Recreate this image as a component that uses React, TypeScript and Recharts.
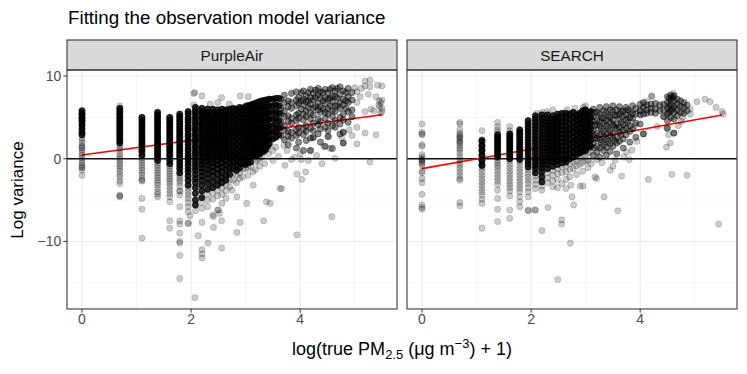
import { ScatterChart, Scatter, XAxis, YAxis, CartesianGrid, ReferenceLine } from "recharts";

// x = log(true PM2.5 + 1), y = log variance
const X_TICKS = [0, 2, 4];
const X_MINOR = [1, 3, 5];
const Y_TICKS = [-10, 0, 10];
const Y_MINOR = [-15, -5, 5];
const X_DOMAIN: [number, number] = [-0.275, 5.775];
const Y_DOMAIN: [number, number] = [-18.17, 10.73];

const PANELS = ["PurpleAir", "SEARCH"];

// fitted lines [x, y] at the ends of the data range
const PA_FIT = [[0, 0.45], [5.5, 5.32]];
const SR_FIT = [[0, -1.2], [5.5, 5.28]];

// PurpleAir: heavily overplotted columns
const PA_CORE: [number, number[]][] = [
  [0, [5.8, 5.5, 5.3, 5.0, 4.8, 4.6, 4.3, 4.0, 3.6, 3.2, 2.9]],
  [0.693, [6.1, 5.8, 5.5, 5.2, 4.9, 4.6, 4.3, 4.0, 3.7, 3.4, 3.1, 2.8, 2.5, 2.2, 1.9]],
  [1.099, [5.0, 4.7, 4.4, 4.1, 3.8, 3.5, 3.2, 2.9, 2.6, 2.3, 2.0, 1.7, 1.4, 1.1, 0.8, 0.4]],
  [1.386, [5.6, 5.3, 5.0, 4.7, 4.4, 4.1, 3.8, 3.5, 3.2, 2.9, 2.6, 2.3, 2.0, 1.7, 1.4, 1.1, 0.8, 0.5, 0.2, -0.2]],
  [1.609, [5.0, 4.7, 4.4, 4.1, 3.8, 3.5, 3.2, 2.9, 2.6, 2.3, 2.0, 1.7, 1.4, 1.1, 0.8, 0.5, 0.2, -0.2, -0.6]],
  [1.792, [5.4, 5.1, 4.8, 4.5, 4.2, 3.9, 3.6, 3.3, 3.0, 2.7, 2.4, 2.1, 1.8, 1.5, 1.2, 0.9, 0.6, 0.3, 0.0, -0.4, -0.8, -1.2, -1.7]],
  [1.946, [5.7, 5.4, 5.0, 4.7, 4.4, 4.0, 3.7, 3.4, 3.0, 2.7, 2.3, 2.0, 1.7, 1.3, 1.0, 0.6, 0.3, 0.0, -0.4, -0.8, -1.2, -1.6, -2.1, -2.6, -3.2]],
  [2.079, [6.2, 5.8, 5.5, 5.1, 4.8, 4.4, 4.1, 3.7, 3.4, 3.0, 2.7, 2.3, 2.0, 1.6, 1.3, 0.9, 0.6, 0.2, -0.2, -0.6, -1.0, -1.4, -1.9, -2.4, -2.9, -3.5, -4.2, -5.0, -5.6]],
  [2.197, [6.1, 5.7, 5.4, 5.0, 4.7, 4.3, 4.0, 3.6, 3.3, 2.9, 2.6, 2.2, 1.9, 1.5, 1.2, 0.8, 0.5, 0.1, -0.3, -0.7, -1.1, -1.6, -2.1, -2.6, -3.2, -3.9, -4.7]],
  [2.303, [6.0, 5.6, 5.3, 4.9, 4.6, 4.2, 3.9, 3.5, 3.2, 2.8, 2.5, 2.1, 1.8, 1.4, 1.1, 0.7, 0.4, 0.0, -0.4, -0.8, -1.3, -1.8, -2.4, -3.0, -3.7]],
  [2.398, [6.0, 5.6, 5.2, 4.9, 4.5, 4.2, 3.8, 3.5, 3.1, 2.8, 2.4, 2.1, 1.7, 1.4, 1.0, 0.7, 0.3, -0.1, -0.5, -1.0, -1.5, -2.1, -2.8, -3.5]],
  [2.485, [5.9, 5.5, 5.2, 4.8, 4.5, 4.1, 3.8, 3.4, 3.1, 2.7, 2.4, 2.0, 1.7, 1.3, 1.0, 0.6, 0.2, -0.2, -0.7, -1.2, -1.8, -2.5, -3.2]],
  [2.565, [6.0, 5.6, 5.2, 4.8, 4.4, 4.0, 3.6, 3.2, 2.8, 2.4, 2.0, 1.6, 1.2, 0.8, 0.4, 0.0, -0.5, -1.0, -1.6, -2.3, -2.9]],
  [2.639, [5.9, 5.5, 5.1, 4.7, 4.3, 3.9, 3.5, 3.1, 2.7, 2.3, 1.9, 1.5, 1.1, 0.7, 0.3, -0.2, -0.7, -1.3, -2.0, -2.6]],
  [2.708, [6.0, 5.5, 5.0, 4.5, 4.0, 3.5, 3.0, 2.5, 2.0, 1.5, 1.0, 0.5, 0.0, -0.6, -1.2, -1.9]],
  [2.773, [6.1, 5.6, 5.1, 4.6, 4.1, 3.6, 3.1, 2.6, 2.1, 1.6, 1.1, 0.6, 0.1, -0.5, -1.2]],
  [2.833, [6.0, 5.4, 4.8, 4.2, 3.6, 3.0, 2.4, 1.8, 1.2, 0.6, 0.0, -0.7, -1.4]],
  [2.89, [6.2, 5.6, 5.0, 4.4, 3.8, 3.2, 2.6, 2.0, 1.4, 0.8, 0.2, -0.5, -1.1]],
  [2.944, [6.1, 5.5, 4.9, 4.3, 3.7, 3.1, 2.5, 1.9, 1.3, 0.7, 0.1, -0.6]],
  [2.996, [6.3, 5.6, 4.9, 4.2, 3.5, 2.8, 2.1, 1.4, 0.7, 0.0, -0.7]],
  [3.045, [6.4, 5.7, 5.0, 4.3, 3.6, 2.9, 2.2, 1.5, 0.8, 0.1, -0.5]],
  [3.091, [6.5, 5.8, 5.1, 4.4, 3.7, 3.0, 2.3, 1.6, 0.9, 0.2, -0.4]],
  [3.135, [6.6, 5.9, 5.2, 4.5, 3.8, 3.1, 2.4, 1.7, 1.0, 0.3]],
  [3.178, [6.7, 6.0, 5.3, 4.6, 3.9, 3.2, 2.5, 1.8, 1.1, 0.4]],
  [3.219, [6.8, 6.0, 5.2, 4.4, 3.6, 2.8, 2.0, 1.2, 0.5]],
  [3.258, [6.9, 6.1, 5.3, 4.5, 3.7, 2.9, 2.1, 1.3, 0.6]],
  [3.296, [7.0, 6.2, 5.4, 4.6, 3.8, 3.0, 2.2, 1.4, 0.8]],
  [3.332, [7.0, 6.2, 5.4, 4.6, 3.8, 3.0, 2.2, 1.5, 0.9]],
  [3.367, [7.1, 6.3, 5.5, 4.7, 3.9, 3.1, 2.3, 1.6, 1.1]],
  [3.401, [7.1, 6.3, 5.5, 4.7, 3.9, 3.1, 2.3, 1.5]],
  [3.434, [7.2, 6.4, 5.6, 4.8, 4.0, 3.2, 2.5, 1.8]],
  [3.497, [7.2, 6.4, 5.6, 4.8, 4.0, 3.2, 2.4]],
  [3.555, [7.3, 6.5, 5.7, 4.9, 4.1, 3.3, 2.6]],
  [3.611, [7.3, 6.4, 5.5, 4.6, 3.7, 2.9]],
];

const PA_MID: [number, number[]][] = [
  [3.65, [7.2, 6.1, 5.4, 4.4, 3.8, 2.8]],
  [3.71, [7.7, 6.8, 5.8, 5.1, 4.0, 3.4, 2.3]],
  [3.78, [7.0, 6.3, 5.2, 4.5, 3.3, 2.7, 1.7]],
  [3.84, [7.9, 6.8, 6.1, 4.9, 4.3, 3.2, 2.5]],
  [3.93, [8.1, 7.1, 6.4, 5.3, 4.6, 3.5, 2.8, 1.3]],
  [3.97, [7.4, 6.7, 5.5, 4.9, 3.8, 3.1, 2.0]],
  [4.02, [8.0, 7.0, 6.0]],
  [4.06, [8.2, 7.2, 6.5, 5.4, 4.7, 3.6, 2.9, 1.0]],
  [4.11, [7.6, 6.9, 5.8, 5.1, 4.0, 3.3, 2.2]],
  [4.15, [8.0, 7.0, 6.2]],
  [4.19, [8.4, 7.4, 6.6, 5.5, 4.8, 3.7, 2.5, 1.0]],
  [4.24, [7.9, 7.1, 6.1, 5.3, 4.3, 3.4, 2.6]],
  [4.28, [8.3, 7.4, 6.3]],
  [4.33, [8.5, 7.7, 6.7, 5.9, 4.8, 4.1, 3.0]],
  [4.37, [8.1, 7.3, 6.3, 5.6, 4.5, 3.6, 2.0]],
  [4.42, [8.0, 7.0, 6.0]],
  [4.46, [8.4, 7.4, 6.7, 5.6, 4.9, 3.8, 1.5]],
  [4.51, [8.0, 7.2, 6.1, 5.4, 4.3, 3.4, 2.7]],
  [4.55, [8.4, 7.3, 6.4]],
  [4.59, [8.6, 7.6, 6.9, 5.8, 5.1, 4.0, 1.25]],
  [4.64, [8.2, 7.5, 6.4, 5.7, 4.6, 3.8]],
  [4.68, [8.5, 7.3, 6.4]],
  [4.73, [8.7, 7.8, 6.8, 6.1, 5.0, 4.2, 3.0]],
  [4.79, [8.2, 7.2, 6.5, 5.4, 4.7, 3.2, 1.9]],
  [4.84, [8.0, 7.0, 6.1]],
  [4.88, [8.5, 7.5, 6.8, 5.7, 4.4]],
  [4.95, [8.0, 7.1, 5.9, 5.1]],
];

const PA_TAIL: [number, number[]][] = [
  [0, [2.5, 2.2, 1.9, 1.6, 1.4, 1.3, 1.0, 0.7, 0.4, 0.1, -0.2, -0.5, -0.8, -1.0, -1.1, -1.4, -2.0]],
  [0.693, [6.4, 1.6, 1.3, 1.0, 0.6, 0.3, 0.0, -0.3, -0.6, -0.9, -1.2, -1.5, -1.9, -2.2, -2.7, -3.0, -4.4, -4.5, -4.6]],
  [1.099, [0.1, -0.2, -0.5, -0.8, -1.1, -1.4, -1.7, -2.0, -2.4, -2.6, -2.7, -4.8, -6.1, -9.6]],
  [1.386, [-0.5, -0.8, -1.1, -1.4, -1.7, -2.0, -2.3, -2.6, -2.9, -3.2, -3.6, -4.0, -4.3, -4.6]],
  [1.609, [-0.9, -1.2, -1.5, -1.8, -2.1, -2.4, -2.7, -3.0, -3.4, -3.8, -4.2, -4.6, -5.2, -7.5, -8.4]],
  [1.792, [-2.0, -2.3, -2.6, -2.9, -3.3, -3.9, -3.9, -4.4, -5.8, -7.5, -7.9, -9.0, -10.0, -10.2, -11.7, -14.5]],
  [1.946, [-3.6, -4.0, -4.4, -4.8, -5.3, -5.8, -6.4, -7.8]],
];

const PA_SPARSE: [number, number][] = [
  [2.05, 7.9], [2.05, 6.5], [2.07, 8.0], [2.2, 7.6], [2.56, 7.4], [2.49, 6.8], [2.9, 7.6], [3.05, 7.5], [3.02, 6.5], [2.35, 6.6], [2.7, 6.6],
  [2.079, -6.3], [2.197, -5.3], [2.197, -6.0], [2.303, -4.3], [2.303, -5.0], [2.303, -5.8], [2.398, -4.2], [2.398, -4.9], [2.398, -6.8],
  [2.485, -3.8], [2.485, -4.5], [2.485, -6.2], [2.565, -3.5], [2.565, -4.3], [2.565, -5.4], [2.639, -3.2], [2.639, -3.9], [2.639, -4.8],
  [2.708, -2.6], [2.708, -3.4], [2.75, -3.8], [2.773, -1.8], [2.773, -2.6], [2.84, -4.6], [2.833, -2.0], [2.833, -2.9], [2.89, -1.7], [2.89, -2.4],
  [2.944, -1.3], [2.944, -2.2], [2.996, -1.2], [3.02, -5.4], [3.045, -1.1], [3.045, -2.0], [3.091, -0.9], [3.14, -3.2], [3.135, -1.6], [3.178, -0.4],
  [3.178, -1.3], [3.219, -0.2], [3.258, 0.0], [3.258, -0.9], [3.296, 0.2], [3.35, -0.6], [3.38, -5.2], [3.45, -5.4], [3.42, 0.6], [3.5, 1.0],
  [3.5, -0.2], [3.55, 1.4], [3.6, 0.3], [3.63, -3.6], [3.66, -3.6], [3.7, 1.6], [3.72, -0.8],
  [1.95, -7.8], [2.2, -7.7], [2.41, -8.3], [2.56, -7.5], [2.9, -7.7], [2.84, -8.9], [3.33, -7.5], [2.31, -10.2], [2.2, -11.0], [2.2, -11.5],
  [2.2, -12.0], [2.56, -10.8], [2.07, -16.8], [2.5, -6.2], [2.41, -7.0], [2.52, -6.6], [4.58, -7.0], [3.94, -9.2], [2.13, -9.3], [1.98, -6.9],
  [5.19, 9.4], [5.28, 9.5], [5.28, 8.7], [5.19, 8.8], [5.42, 8.9], [5.5, 8.8], [5.04, 8.1], [5.39, 7.5], [5.5, 7.1], [5.44, 6.5], [5.5, 5.7],
  [5.47, 5.5], [5.35, 5.8], [5.19, 5.7], [5.04, 6.8], [5.04, 3.8], [5.19, 3.1], [5.39, 2.9], [5.04, 1.8], [4.79, 1.9], [5.28, -0.4], [3.94, -1.85],
  [4.03, -2.5], [4.1, -1.6], [4.4, -0.6], [4.64, 0.05], [4.02, -0.1], [4.15, -0.2], [3.84, -0.1], [4.55, 1.25], [4.43, 1.5], [4.18, 0.97],
  [4.79, 3.2], [4.76, 2.5], [4.52, 2.7], [4.24, 2.5], [5.1, 7.5], [5.3, 6.0], [4.9, 3.5], [4.0, 0.6], [3.9, 0.2], [4.3, 0.4], [3.76, 1.0],
  [4.95, 2.8], [5.5, 6.1], [5.45, 7.0], [5.25, 7.8], [5.12, 8.5], [5.0, 8.6], [5.48, 6.8], [5.46, 6.3],
];

// SEARCH
const SR_CORE: [number, number[]][] = [
  [1.099, [2.2, 1.6, 1.0, 0.4, -0.2, -0.8]],
  [1.386, [2.9, 2.6, 2.3, 2.0, 1.7, 1.4, 1.1, 0.8, 0.5, 0.2]],
  [1.609, [3.0, 2.7, 2.4, 2.1, 1.8, 1.5, 1.2, 0.9, 0.6, 0.3, 0.0]],
  [1.792, [3.5, 3.2, 2.9, 2.6, 2.3, 2.0, 1.7, 1.4, 1.1, 0.8, 0.5, 0.2, -0.1]],
  [1.946, [4.6, 4.2, 3.8, 3.4, 3.0, 2.6, 2.2, 1.8, 1.4, 1.0, 0.6, 0.2, -0.2, -0.6, -1.0]],
  [2.079, [5.2, 4.8, 4.4, 4.0, 3.6, 3.2, 2.8, 2.4, 2.0, 1.6, 1.2, 0.8, 0.4, 0.0, -0.4, -0.8, -1.2, -1.7]],
  [2.197, [5.3, 4.9, 4.5, 4.1, 3.7, 3.3, 2.9, 2.5, 2.1, 1.7, 1.3, 0.9, 0.5, 0.1, -0.3, -0.7, -1.1, -1.6, -2.2, -2.8]],
  [2.303, [5.3, 4.9, 4.5, 4.1, 3.7, 3.3, 2.9, 2.5, 2.1, 1.7, 1.3, 0.9, 0.5, 0.1, -0.3, -0.7, -1.2]],
  [2.398, [5.2, 4.8, 4.4, 4.0, 3.6, 3.2, 2.8, 2.4, 2.0, 1.6, 1.2, 0.8, 0.4, 0.0, -0.4, -0.9]],
  [2.485, [5.4, 5.0, 4.6, 4.2, 3.8, 3.4, 3.0, 2.6, 2.2, 1.8, 1.4, 1.0, 0.6, 0.2, -0.2, -0.7]],
  [2.565, [5.5, 5.0, 4.5, 4.0, 3.5, 3.0, 2.5, 2.0, 1.5, 1.0, 0.5, 0.0, -0.5]],
  [2.639, [5.5, 5.0, 4.5, 4.0, 3.5, 3.0, 2.5, 2.0, 1.5, 1.0, 0.5, 0.0, -0.4]],
  [2.708, [5.4, 4.8, 4.2, 3.6, 3.0, 2.4, 1.8, 1.2, 0.6, 0.0]],
  [2.773, [5.6, 5.0, 4.4, 3.8, 3.2, 2.6, 2.0, 1.4, 0.8, 0.2]],
  [2.833, [5.3, 4.7, 4.1, 3.5, 2.9, 2.3, 1.7, 1.1, 0.5]],
  [2.89, [5.5, 4.9, 4.3, 3.7, 3.1, 2.5, 1.9, 1.3, 0.7]],
  [2.944, [5.8, 5.1, 4.4, 3.7, 3.0, 2.3, 1.6, 0.9]],
  [2.996, [5.9, 5.2, 4.5, 3.8, 3.1, 2.4, 1.7, 1.0]],
  [3.045, [5.6, 4.9, 4.2, 3.5, 2.8, 2.1, 1.4]],
  [3.091, [5.7, 5.0, 4.3, 3.6, 2.9, 2.2, 1.5]],
];

const SR_MID: [number, number[]][] = [
  [3.14, [6.0, 5.1, 4.5, 3.5, 2.9, 1.9, 1.3, 0.4]],
  [3.17, [5.6, 4.0, 2.4]],
  [3.21, [5.6, 4.7, 4.1, 3.1, 2.5, 1.5, 0.8]],
  [3.26, [6.2, 5.4, 4.5, 3.9, 2.9, 2.3, 1.3, 0.2]],
  [3.29, [5.0, 3.6, 2.0]],
  [3.33, [5.8, 4.9, 4.3, 3.3, 2.7, 1.7, 1.0]],
  [3.38, [6.3, 5.6, 4.6, 4.0, 3.0, 2.4, 1.4, 0.4]],
  [3.41, [5.2, 3.7, 2.1]],
  [3.45, [5.9, 5.0, 4.4, 3.4, 2.8, 1.8, 0.9]],
  [3.5, [6.4, 5.7, 4.7, 4.1, 3.1, 2.5, 1.5]],
  [3.53, [5.3, 3.9, 2.2]],
  [3.57, [5.9, 5.2, 4.2, 3.6, 2.6, 1.9, 0.6]],
  [3.62, [6.3, 5.4, 4.8, 3.8, 3.2, 2.1]],
  [3.65, [5.7, 4.4, 2.9]],
  [3.69, [5.8, 5.1, 4.1, 3.5, 2.4, 1.3]],
  [3.74, [6.2, 5.3, 4.7, 3.7, 2.9]],
  [3.77, [5.9, 4.4]],
  [3.81, [5.7, 5.0, 4.0, 3.3, 2.0]],
  [3.86, [6.4, 5.5, 4.9, 3.6]],
  [3.92, [6.1, 5.4, 4.3, 2.6]],
  [4.0, [6.6, 5.8, 5.3, 4.2]],
  [4.06, [6.8, 6.2, 5.4, 3.0]],
  [4.12, [6.5, 5.9, 5.5]],
  [4.2, [6.6, 6.1, 5.6]],
  [4.28, [6.7, 6.0, 5.5]],
  [4.36, [6.5, 5.8]],
  [4.43, [6.6, 5.9, 5.1]],
  [4.5, [7.5, 6.8, 6.1, 5.4, 4.6, 3.7]],
  [4.53, [7.3, 6.4, 5.6]],
  [4.56, [7.7, 7.1, 6.5, 5.8, 5.0]],
  [4.59, [7.4, 6.0]],
  [4.62, [7.6, 7.0, 6.3, 5.6, 4.8, 3.1]],
  [4.68, [7.2, 6.6, 5.9, 5.2]],
  [4.74, [7.0, 6.3, 5.6]],
  [4.8, [6.8, 6.2, 5.5]],
  [4.86, [6.5, 5.8]],
];

const SR_TAIL: [number, number[]][] = [
  [0, [4.2, 3.2, 3.0, 2.9, 1.7, 1.5, 0.5, 0.2, 0.0, -0.1, -0.2, -0.4, -0.6, -0.8, -1.5, -1.7, -2.4, -2.9, -4.3, -5.6, -5.9, -6.1]],
  [0.693, [4.4, 4.2, 3.5, 3.1, 2.9, 2.7, 2.6, 2.4, 2.2, 2.0, 1.9, 1.6, 1.3, 1.1, 0.7, 0.3, -0.1, -0.5, -0.8, -1.2, -1.6, -2.0, -2.4, -2.6, -5.3, -5.7]],
  [1.099, [3.4, 2.3, 2.1, 2.0, 1.8, 1.6, 1.4, 1.3, 1.1, 0.9, 0.6, 0.3, 0.0, -0.3, -0.6, -0.9, -1.2, -1.6, -2.0, -2.4, -2.8, -3.2, -3.6, -4.0, -4.4, -4.9, -5.4, -8.4]],
  [1.386, [4.4, 3.9, 3.5, 3.2, -0.2, -0.5, -0.8, -1.1, -1.5, -1.9, -2.3, -2.7, -3.1, -3.8, -4.8, -6.1, -7.6]],
  [1.609, [3.9, 3.4, -0.3, -0.7, -1.1, -1.5, -1.9, -2.3, -2.7, -3.1, -3.5, -3.9, -4.5, -6.2, -7.2]],
  [1.792, [-0.4, -0.8, -1.2, -1.6, -2.0, -2.4, -2.8, -3.2, -3.6, -4.0, -4.6, -5.2, -5.8]],
  [1.946, [-1.4, -1.8, -2.2, -2.6, -3.0, -3.5, -4.0, -4.6, -6.2]],
];

const SR_SPARSE: [number, number][] = [
  [2.079, -2.1], [2.079, -2.6], [2.079, -3.1], [2.079, -3.6], [2.079, -6.2], [2.197, -3.3], [2.197, -3.8], [2.2, -8.7], [2.303, -1.7], [2.303, -2.3],
  [2.303, -2.9], [2.31, -5.9], [2.398, -1.4], [2.398, -2.0], [2.398, -2.7], [2.398, -3.4], [2.485, -1.2], [2.485, -1.8], [2.485, -2.5], [2.485, -3.5],
  [2.49, -14.6], [2.565, -1.0], [2.565, -1.7], [2.565, -3.0], [2.56, -7.4], [2.56, -7.9], [2.639, -0.9], [2.639, -1.6], [2.639, -2.5], [2.639, -3.6],
  [2.708, -0.6], [2.708, -1.3], [2.708, -2.2], [2.72, -10.2], [2.773, -0.4], [2.773, -1.2], [2.78, -5.6], [2.75, -4.6], [2.73, -3.2], [2.833, -0.2],
  [2.833, -0.9], [2.833, -1.9], [2.9, -3.3], [2.95, -3.3], [2.89, 0.1], [2.89, -0.7], [2.944, 0.3], [2.944, -0.5], [2.944, -1.5], [2.996, 0.4],
  [2.996, -0.3], [3.045, 0.7], [3.045, -0.2], [3.045, -1.1], [3.091, 0.8], [3.1, -0.6], [3.17, -2.2], [3.2, -2.4], [3.2, -0.1], [3.3, -0.5],
  [3.34, -4.6], [3.59, -6.3], [3.66, -2.1], [3.45, -1.4], [3.5, -0.9], [3.54, -0.15], [3.7, 0.2], [3.8, -0.1], [3.75, 0.8], [1.95, -6.3], [2.07, -6.2],
  [2.29, 5.7], [2.2, 5.6], [2.66, 5.9], [2.96, 6.2], [3.0, 6.4], [2.4, 5.9], [2.1, 5.5], [2.8, 6.1],
  [4.21, 7.5], [4.12, 6.9], [4.21, 7.6], [4.61, 7.6], [4.61, 7.9], [5.04, 6.9], [5.19, 7.2], [5.28, 6.9], [5.39, 6.2], [5.5, 5.7], [5.52, 5.4],
  [4.92, 6.0], [4.92, 5.4], [4.43, 5.1], [4.49, 3.7], [4.52, 2.9], [4.55, 1.9], [4.48, 1.4], [4.61, 3.1], [4.31, 3.9], [4.06, 3.0], [3.94, 2.1],
  [3.85, 1.05], [3.82, 4.9], [3.9, 4.0], [4.15, -2.5], [4.58, -1.9], [4.86, -2.0], [5.44, -7.9], [4.0, 5.9], [4.7, 4.0], [4.75, 4.5], [4.78, 5.0],
];

const FONT = "'Liberation Sans', Arial, Helvetica, sans-serif";

const cols = (c: [number, number[]][]) => c.flatMap(([x, ys]) => ys.map((y) => ({ x, y })));
const pairs = (p: [number, number][]) => p.map(([x, y]) => ({ x, y }));

const dot = (a: number) => (p: any) => (
  <circle cx={p.cx} cy={p.cy} r={3.1} fill="#000" fillOpacity={a} stroke="#000" strokeOpacity={a} strokeWidth={0.8} />
);

const minus = (v: number) => String(v).replace("-", "\u2212");

function Facet({ core, mid, tail, sparse, fit, showY, left, width }: any) {
  const tick = { fill: "#4D4D4D", fontSize: 14 };
  return (
    <div style={{ position: "absolute", left, top: 0 }}>
      <ScatterChart
        width={width}
        height={340}
        margin={showY ? { top: 70, right: 3, bottom: 6, left: 27 } : { top: 70, right: 10, bottom: 6, left: 7 }}
      >
        <CartesianGrid stroke="#EBEBEB" strokeWidth={0.55} horizontalValues={Y_MINOR} verticalValues={X_MINOR} />
        <CartesianGrid stroke="#EBEBEB" strokeWidth={1.1} horizontalValues={Y_TICKS} verticalValues={X_TICKS} />
        <XAxis
          type="number"
          dataKey="x"
          domain={X_DOMAIN}
          ticks={X_TICKS}
          allowDataOverflow
          axisLine={false}
          tickLine={{ stroke: "#333333" }}
          tickSize={3.7}
          tickMargin={1.5}
          height={25}
          tick={tick}
        />
        <YAxis
          type="number"
          dataKey="y"
          domain={Y_DOMAIN}
          ticks={Y_TICKS}
          allowDataOverflow
          hide={!showY}
          axisLine={false}
          tickLine={{ stroke: "#333333" }}
          tickSize={3.7}
          tickMargin={2}
          width={40}
          tick={tick}
          tickFormatter={minus}
        />
        <Scatter data={pairs(sparse)} shape={dot(0.2)} isAnimationActive={false} />
        <Scatter data={cols(tail)} shape={dot(0.2)} isAnimationActive={false} />
        <Scatter data={cols(mid)} shape={dot(0.45)} isAnimationActive={false} />
        <Scatter data={cols(core)} shape={dot(0.85)} isAnimationActive={false} />
        <ReferenceLine y={0} stroke="#111" strokeWidth={1.6} />
        <ReferenceLine
          segment={[{ x: fit[0][0], y: fit[0][1] }, { x: fit[1][0], y: fit[1][1] }]}
          stroke="#FF0000"
          strokeWidth={1.6}
        />
      </ScatterChart>
    </div>
  );
}

export default function App() {
  return (
    <div style={{ position: "absolute", left: 0, top: 0, width: 747, height: 374, background: "#fff", fontFamily: FONT }}>
      <Facet core={PA_CORE} mid={PA_MID} tail={PA_TAIL} sparse={PA_SPARSE} fit={PA_FIT} showY left={0} width={400} />
      <Facet core={SR_CORE} mid={SR_MID} tail={SR_TAIL} sparse={SR_SPARSE} fit={SR_FIT} showY={false} left={400} width={347} />
      <svg width={747} height={374} style={{ position: "absolute", left: 0, top: 0, pointerEvents: "none", fontFamily: FONT }}>
        <text x={68} y={24} fontSize={18.8} fill="#000">Fitting the observation model variance</text>
        {PANELS.map((name, i) => {
          const x0 = i === 0 ? 67 : 407;
          return (
            <g key={name}>
              <rect x={x0} y={40} width={330} height={30} fill="#D9D9D9" stroke="#333333" strokeWidth={1.07} />
              <rect x={x0} y={70} width={330} height={239} fill="none" stroke="#333333" strokeWidth={1.07} />
              <text x={x0 + 165} y={60.5} textAnchor="middle" fontSize={15.3} fill="#1A1A1A">{name}</text>
            </g>
          );
        })}
        <text x={23} y={190} transform="rotate(-90 23 190)" textAnchor="middle" fontSize={17} fill="#000">Log variance</text>
        <text x={402} y={355} textAnchor="middle" fontSize={18} fill="#000">
          log(true PM
          <tspan fontSize={13} dy={4}>2.5</tspan>
          <tspan dy={-4}> (μg m</tspan>
          <tspan fontSize={13} dy={-7}>−3</tspan>
          <tspan dy={7}>) + 1)</tspan>
        </text>
      </svg>
    </div>
  );
}
